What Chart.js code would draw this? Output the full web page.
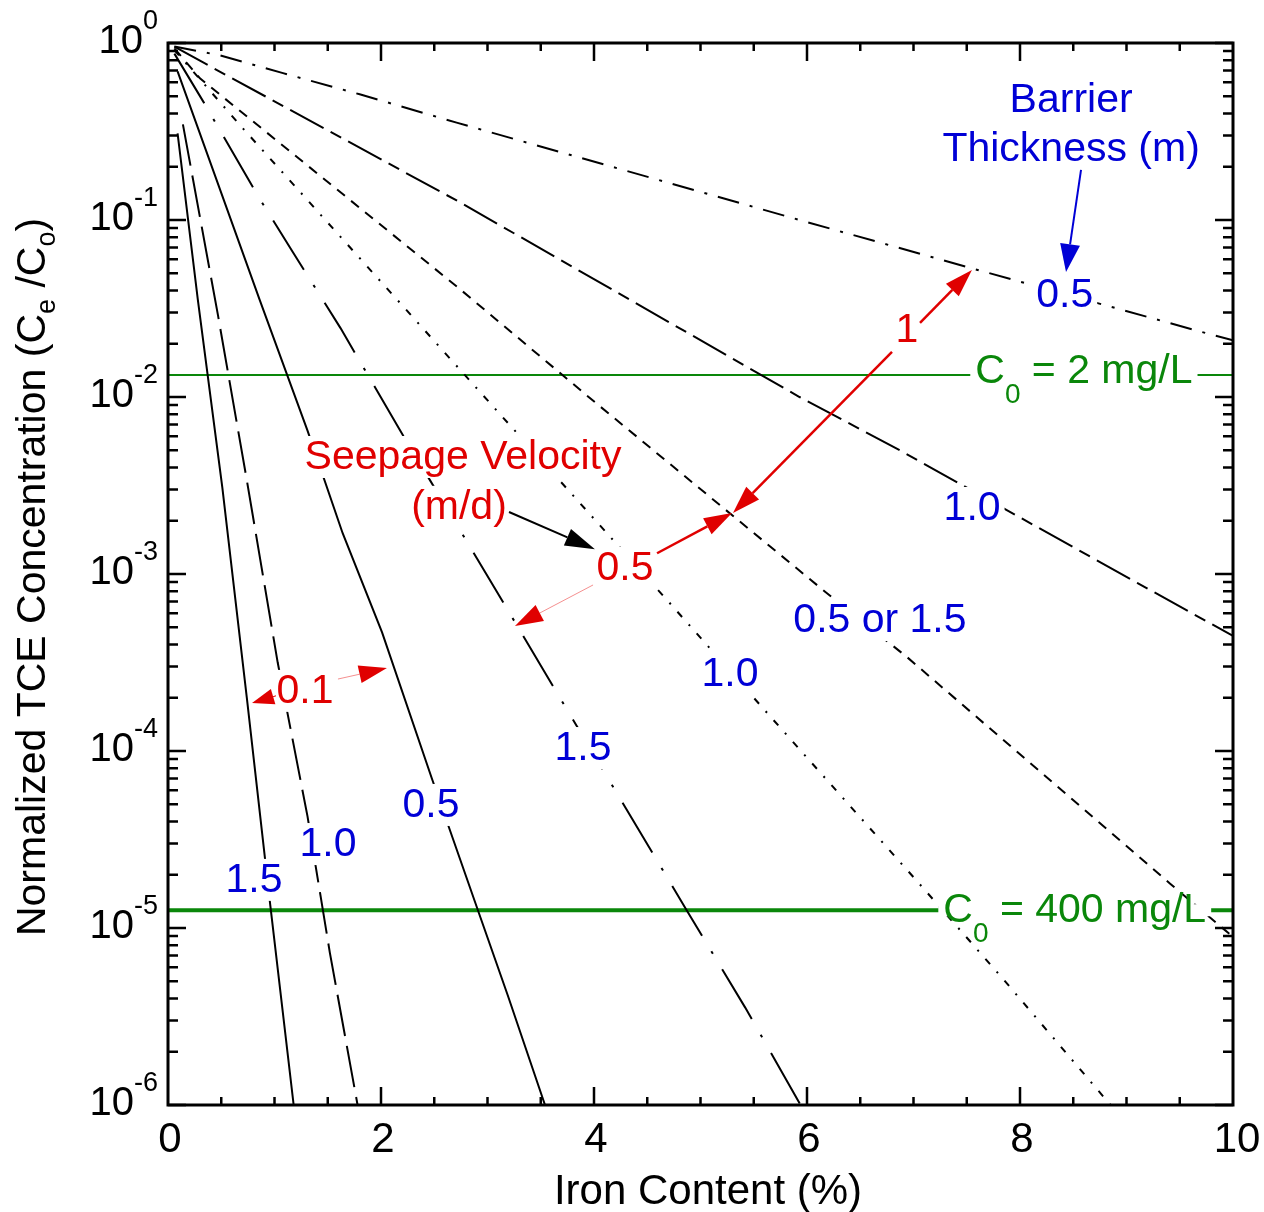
<!DOCTYPE html>
<html>
<head>
<meta charset="utf-8">
<script src="https://cdn.jsdelivr.net/npm/chart.js@4.4.1/dist/chart.umd.min.js"></script>
<style>
  html, body { margin: 0; padding: 0; background: #fff; }
  #wrap { width: 1264px; height: 1212px; }
</style>
</head>
<body>
<div id="wrap"><canvas id="myChart" width="1264" height="1212"></canvas></div>
<script>
// Iron content (%) vs normalized TCE concentration
// seepage velocity 0.1 m/d
const ironV01T15 = [0.09, 0.28, 0.51, 0.74, 0.96, 1.18];
const concV01T15 = [0.309, 0.0355, 0.00309, 2.0e-4, 1.35e-5, 1.0e-6];
const ironV01T10 = [0.14, 0.47, 0.74, 1.03, 1.31, 1.52, 1.78];
const concV01T10 = [0.347, 0.0288, 0.00339, 3.16e-4, 4.27e-5, 7.24e-6, 1.0e-6];
const ironV01T05 = [0.09, 0.86, 1.31, 1.64, 2.01, 2.48, 2.91, 3.19, 3.54];
const concV01T05 = [0.692, 0.0355, 0.00646, 0.0017, 4.68e-4, 6.92e-5, 1.26e-5, 4.17e-6, 1.0e-6];
// seepage velocity 0.5 m/d
const ironV05T15 = [0.06, 0.33, 0.86, 1.17, 1.62, 2.18, 2.98, 3.68, 4.87, 5.42, 5.94];
const concV05T15 = [0.871, 0.468, 0.132, 0.0661, 0.0245, 0.00646, 0.00102, 2.0e-4, 1.26e-5, 3.55e-6, 1.0e-6];
const ironV05T10 = [0.06, 0.70, 2.30, 4.69, 5.65, 7.04, 7.83, 8.85];
const concV05T10 = [0.912, 0.331, 0.0282, 7.08e-4, 1.58e-4, 1.82e-5, 5.25e-6, 1.0e-6];
// 0.5 m/d with 0.5 m, same curve as 1 m/d with 1.5 m
const ironV05T05 = [0.06, 0.30, 2.72, 3.99, 6.17, 6.94, 9.41, 10];
const concV05T05 = [0.933, 0.631, 0.0417, 0.00955, 7.94e-4, 3.39e-4, 1.78e-5, 8.9e-6];
// seepage velocity 1 m/d
const ironV1T10 = [0.06, 0.33, 2.74, 5.93, 6.87, 7.88, 9.10, 10];
const concV1T10 = [0.955, 0.776, 0.126, 0.01, 0.00501, 0.00229, 8.91e-4, 4.47e-4];
const ironV1T05 = [0.06, 0.49, 1.08, 1.80, 2.71, 5.93, 7.53, 9.81, 10];
const concV1T05 = [0.955, 0.851, 0.676, 0.513, 0.355, 0.1, 0.0537, 0.0224, 0.0209];

// C0 limit lines
const limitIron = [0, 10];
const limitCo2 = [0.0133, 0.0133];
const limitCo400 = [1.26e-5, 1.26e-5];

// ticks
const xTickLabels = [0, 2, 4, 6, 8, 10];
const yTickExps = [0, -1, -2, -3, -4, -5, -6];

const FONT = '"Liberation Sans", Arial, Helvetica, sans-serif';
const BLUE = '#0000d6';
const RED = '#e00000';
const GREEN = '#0a870a';
const LABEL_PX = 41;

function pairs(xs, ys) {
  return xs.map((x, i) => ({ x: x, y: ys[i] }));
}

function curve(xs, ys, dash) {
  return {
    data: pairs(xs, ys),
    borderColor: '#000',
    borderWidth: 2,
    borderDash: dash,
    pointRadius: 0,
    fill: false
  };
}

const datasets = [
  curve(ironV01T15, concV01T15, []),
  curve(ironV01T10, concV01T10, [42, 10]),
  curve(ironV01T05, concV01T05, []),
  curve(ironV05T15, concV05T15, [58, 18, 3, 18]),
  curve(ironV05T10, concV05T10, [7, 10, 2, 10]),
  curve(ironV05T05, concV05T05, [10, 8]),
  curve(ironV1T10, concV1T10, [38, 8, 12, 8]),
  curve(ironV1T05, concV1T05, [22, 11, 3, 11]),
  { data: pairs(limitIron, limitCo2), borderColor: GREEN, borderWidth: 2, pointRadius: 0 },
  { data: pairs(limitIron, limitCo400), borderColor: GREEN, borderWidth: 4, pointRadius: 0 }
];

// annotation anchors in data units (x = iron %, y = concentration)
const thickLabels = [
  { t: '0.5', x: 8.42, y: 0.0322 },
  { t: '1.0', x: 7.55, y: 0.00202 },
  { t: '0.5 or 1.5', x: 6.685, y: 4.70e-4 },
  { t: '1.0', x: 5.277, y: 2.33e-4 },
  { t: '1.5', x: 3.897, y: 8.89e-5 },
  { t: '0.5', x: 2.469, y: 4.24e-5 },
  { t: '1.0', x: 1.502, y: 2.55e-5 },
  { t: '1.5', x: 0.808, y: 1.60e-5 }
];
const velLabels = [
  { t: 'Seepage Velocity', x: 2.77, y: 3.92e-3 },
  { t: '(m/d)', x: 2.732, y: 2.05e-3 },
  { t: '0.5', x: 4.291, y: 9.25e-4 },
  { t: '1', x: 6.939, y: 0.0205 },
  { t: '0.1', x: 1.286, y: 1.87e-4 }
];

function richWidth(ctx, parts) {
  let w = 0;
  parts.forEach(p => { ctx.font = p[1] + 'px ' + FONT; w += ctx.measureText(p[0]).width; });
  return w;
}

function rich(ctx, parts, x, y, align, color) {
  const w = richWidth(ctx, parts);
  let cx = align === 'center' ? x - w / 2 : (align === 'right' ? x - w : x);
  ctx.textAlign = 'left';
  ctx.textBaseline = 'alphabetic';
  ctx.fillStyle = color;
  parts.forEach(p => {
    ctx.font = p[1] + 'px ' + FONT;
    ctx.fillText(p[0], cx, y + p[2]);
    cx += ctx.measureText(p[0]).width;
  });
  return w;
}

function label(ctx, text, cx, base, color, bg) {
  ctx.font = LABEL_PX + 'px ' + FONT;
  const w = ctx.measureText(text).width;
  if (bg) {
    ctx.fillStyle = '#fff';
    ctx.fillRect(cx - w / 2 - 4, base - 33, w + 8, 42);
  }
  ctx.fillStyle = color;
  ctx.textAlign = 'center';
  ctx.textBaseline = 'alphabetic';
  ctx.fillText(text, cx, base);
}

function arrow(ctx, x0, y0, x1, y1, color, lw, lineColor, hl, hw) {
  const ang = Math.atan2(y1 - y0, x1 - x0);
  const bx = x1 - hl * Math.cos(ang), by = y1 - hl * Math.sin(ang);
  ctx.strokeStyle = lineColor || color;
  ctx.lineWidth = lw;
  ctx.beginPath();
  ctx.moveTo(x0, y0);
  ctx.lineTo(bx, by);
  ctx.stroke();
  ctx.fillStyle = color;
  ctx.beginPath();
  ctx.moveTo(x1, y1);
  ctx.lineTo(bx + hw / 2 * Math.sin(ang), by - hw / 2 * Math.cos(ang));
  ctx.lineTo(bx - hw / 2 * Math.sin(ang), by + hw / 2 * Math.cos(ang));
  ctx.closePath();
  ctx.fill();
}

const whiteBg = {
  id: 'whiteBg',
  beforeDraw(chart) {
    const ctx = chart.ctx;
    ctx.save();
    ctx.fillStyle = '#fff';
    ctx.fillRect(0, 0, chart.width, chart.height);
    ctx.restore();
  }
};

const decor = {
  id: 'decor',
  afterDraw(chart) {
    const ctx = chart.ctx, a = chart.chartArea;
    const sx = chart.scales.x, sy = chart.scales.y;
    const px = v => sx.getPixelForValue(v);
    const py = v => sy.getPixelForValue(v);
    ctx.save();

    // C0 labels over the green lines
    const co2 = [['C', LABEL_PX, 0], ['0', 28, 20], [' = 2 mg/L', LABEL_PX, 0]];
    const co400 = [['C', LABEL_PX, 0], ['0', 28, 20], [' = 400 mg/L', LABEL_PX, 0]];
    let w = richWidth(ctx, co2);
    let lx = px(7.58), ly = py(limitCo2[0]);
    ctx.fillStyle = '#fff';
    ctx.fillRect(lx - 5, ly - 6, w + 10, 12);
    rich(ctx, co2, lx, ly + 8, 'left', GREEN);
    w = richWidth(ctx, co400);
    lx = px(7.28); ly = py(limitCo400[0]);
    ctx.fillStyle = '#fff';
    ctx.fillRect(lx - 5, ly - 6, w + 10, 12);
    rich(ctx, co400, lx, ly + 12, 'left', GREEN);

    // barrier thickness labels
    thickLabels.forEach(l => label(ctx, l.t, px(l.x), py(l.y), BLUE, true));
    label(ctx, 'Barrier', px(8.48), py(0.407), BLUE, false);
    label(ctx, 'Thickness (m)', px(8.48), py(0.216), BLUE, false);
    arrow(ctx, px(8.573), py(0.192), px(8.432), py(0.0508), BLUE, 2, null, 28, 20);

    // seepage velocity labels
    velLabels.forEach(l => label(ctx, l.t, px(l.x), py(l.y), RED, true));
    arrow(ctx, px(3.202), py(2.24e-3), px(4.009), py(1.38e-3), '#000', 2, null, 30, 18);
    arrow(ctx, px(4.592), py(1.31e-3), px(5.296), py(2.21e-3), RED, 2.5, null, 28, 18);
    arrow(ctx, px(3.991), py(8.67e-4), px(3.258), py(5.08e-4), RED, 1, '#f59090', 28, 18);
    arrow(ctx, px(7.061), py(0.0262), px(7.549), py(0.0522), RED, 2.5, null, 28, 18);
    arrow(ctx, px(6.798), py(0.0180), px(5.305), py(2.21e-3), RED, 2.5, null, 28, 18);
    arrow(ctx, px(1.596), py(2.55e-4), px(2.056), py(2.94e-4), RED, 1, '#f59090', 28, 18);
    arrow(ctx, px(1.014), py(2.05e-4), px(0.789), py(1.87e-4), RED, 1, RED, 22, 16);

    // frame
    ctx.strokeStyle = '#000';
    ctx.lineWidth = 3;
    ctx.strokeRect(a.left, a.top, a.right - a.left, a.bottom - a.top);

    // x ticks (inward, both sides)
    ctx.lineWidth = 2.5;
    for (let v = 0.5; v < 10; v += 0.5) {
      const major = Math.abs(v / 2 - Math.round(v / 2)) < 1e-6;
      const len = major ? 18 : 8;
      const x = px(v);
      ctx.beginPath();
      ctx.moveTo(x, a.bottom); ctx.lineTo(x, a.bottom - len);
      ctx.moveTo(x, a.top); ctx.lineTo(x, a.top + len);
      ctx.stroke();
    }
    // y ticks (log, inward, both sides)
    yTickExps.forEach(e => {
      const y = py(Math.pow(10, e));
      ctx.beginPath();
      ctx.moveTo(a.left, y); ctx.lineTo(a.left + 18, y);
      ctx.moveTo(a.right, y); ctx.lineTo(a.right - 18, y);
      ctx.stroke();
      if (e < 0) {
        for (let m = 2; m <= 9; m++) {
          const ym = py(m * Math.pow(10, e));
          ctx.beginPath();
          ctx.moveTo(a.left, ym); ctx.lineTo(a.left + 10, ym);
          ctx.moveTo(a.right, ym); ctx.lineTo(a.right - 10, ym);
          ctx.stroke();
        }
      }
    });

    // tick labels
    ctx.fillStyle = '#000';
    ctx.font = '42px ' + FONT;
    ctx.textAlign = 'center';
    ctx.textBaseline = 'alphabetic';
    xTickLabels.forEach(v => ctx.fillText(String(v), px(v) + (v === 10 ? 4 : 2), a.bottom + 47));
    yTickExps.forEach(e => {
      const y = py(Math.pow(10, e));
      const expText = e === 0 ? '0' : '-' + Math.abs(e);
      rich(ctx, [['10', 40, 0], [expText, 27, -24]], 158, y + 10, 'right', '#000');
    });

    // axis titles
    ctx.font = '42px ' + FONT;
    ctx.textAlign = 'center';
    ctx.fillStyle = '#000';
    ctx.fillText('Iron Content (%)', 708, 1204);
    ctx.translate(45, 577);
    ctx.rotate(-Math.PI / 2);
    rich(ctx, [['Normalized TCE Concentration (C', 41, 0], ['e', 27, 10], [' /C', 41, 0], ['o', 27, 10], [')', 41, 0]], 0, 0, 'center', '#000');
    ctx.restore();
  }
};

const config = {
  type: 'line',
  data: { datasets: datasets },
  options: {
    responsive: false,
    animation: false,
    layout: { padding: { left: 168, top: 43, right: 31, bottom: 107 } },
    plugins: {
      legend: { display: false },
      tooltip: { enabled: false }
    },
    scales: {
      x: { type: 'linear', min: 0, max: 10, display: false },
      y: { type: 'logarithmic', min: 1e-6, max: 1, display: false }
    },
    elements: { line: { tension: 0 } }
  },
  plugins: [whiteBg, decor]
};

const myChart = new Chart(document.getElementById('myChart'), config);
</script>
</body>
</html>
